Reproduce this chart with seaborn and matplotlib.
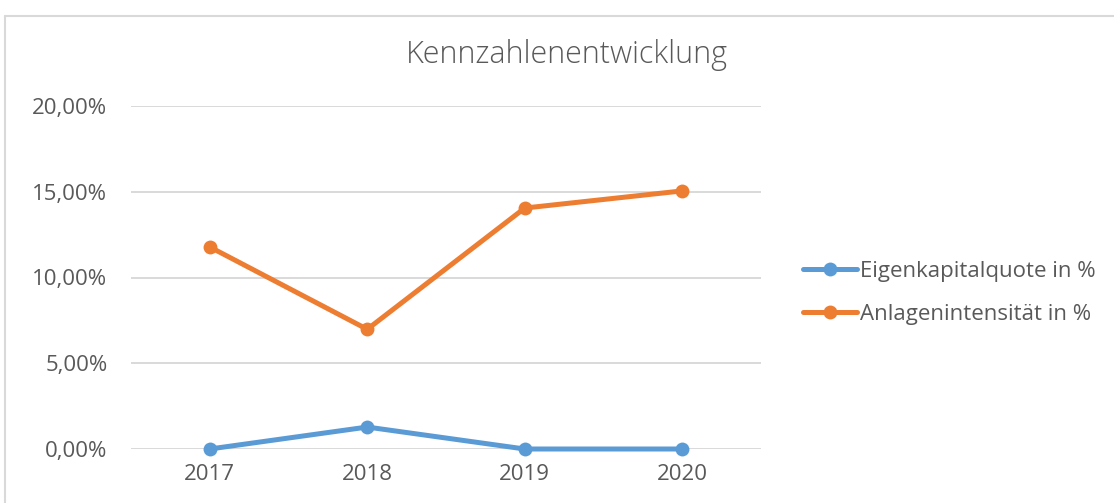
import matplotlib
matplotlib.use("Agg")
import matplotlib.pyplot as plt
import seaborn as sns
import pandas as pd
from matplotlib.lines import Line2D
from matplotlib.ticker import FuncFormatter

years = ["2017", "2018", "2019", "2020"]
eigenkapitalquote = [0.0, 1.28, 0.0, 0.0]
anlagenintensitaet = [11.78, 6.98, 14.05, 15.05]
series_names = ["Eigenkapitalquote in %", "Anlagenintensität in %"]
y_ticks = [0, 5, 10, 15, 20]
title = "Kennzahlenentwicklung"

df = pd.DataFrame({
    "Jahr": years * 2,
    "Wert": eigenkapitalquote + anlagenintensitaet,
    "Serie": [series_names[0]] * len(years) + [series_names[1]] * len(years),
})

sns.set_theme(style="white")
plt.rcParams["font.family"] = ["Open Sans", "DejaVu Sans"]
text_color = "#595959"
palette = {series_names[0]: "#5B9BD5", series_names[1]: "#ED7D31"}

fig = plt.figure(figsize=(11.14, 5.03), dpi=100)
ax = fig.add_axes([131 / 1114, (503 - 449) / 503, (761 - 131) / 1114, (449 - 106) / 503])

sns.lineplot(data=df, x="Jahr", y="Wert", hue="Serie", palette=palette,
             marker="o", markersize=10, markeredgewidth=0, linewidth=3.6,
             ax=ax, legend=False, sort=False)
for ln in ax.lines:
    ln.set_clip_on(False)

ax.set_xlim(-0.5, len(years) - 0.5)
ax.set_ylim(0, 20)
ax.set_yticks(y_ticks)
ax.yaxis.set_major_formatter(FuncFormatter(lambda v, p: f"{v:.2f}%".replace(".", ",")))
ax.grid(axis="y", color="#D9D9D9", linewidth=1.4)
ax.grid(axis="x", visible=False)
ax.set_axisbelow(True)
for s in ax.spines.values():
    s.set_visible(False)
ax.tick_params(axis="both", length=0, labelsize=16, labelcolor=text_color)
ax.tick_params(axis="y", pad=17)
ax.tick_params(axis="x", pad=11)
ax.set_xlabel("")
ax.set_ylabel("")

fig.text(567 / 1114, 1 - 55 / 503, title, ha="center", va="center",
         fontsize=22, color=text_color, fontweight="light")

handles = [Line2D([], [], color=palette[n], linewidth=3.6, marker="o",
                  markersize=10, markeredgewidth=0) for n in series_names]
leg = fig.legend(handles, series_names, loc="center left",
                 bbox_to_anchor=(803 / 1114, 1 - 293 / 503), frameon=False,
                 fontsize=16, handlelength=2.45, handletextpad=0.12,
                 labelspacing=1.0, borderpad=0, borderaxespad=0)
for t in leg.get_texts():
    t.set_color(text_color)

# chart border
fig.add_artist(Line2D([5 / 1114, 5 / 1114], [0, 1 - 16 / 503], color="#D9D9D9",
                      linewidth=1.5, transform=fig.transFigure))
fig.add_artist(Line2D([5 / 1114, 1], [1 - 16 / 503, 1 - 16 / 503], color="#D9D9D9",
                      linewidth=1.5, transform=fig.transFigure))

fig.savefig("out.png", dpi=100, facecolor="white")
